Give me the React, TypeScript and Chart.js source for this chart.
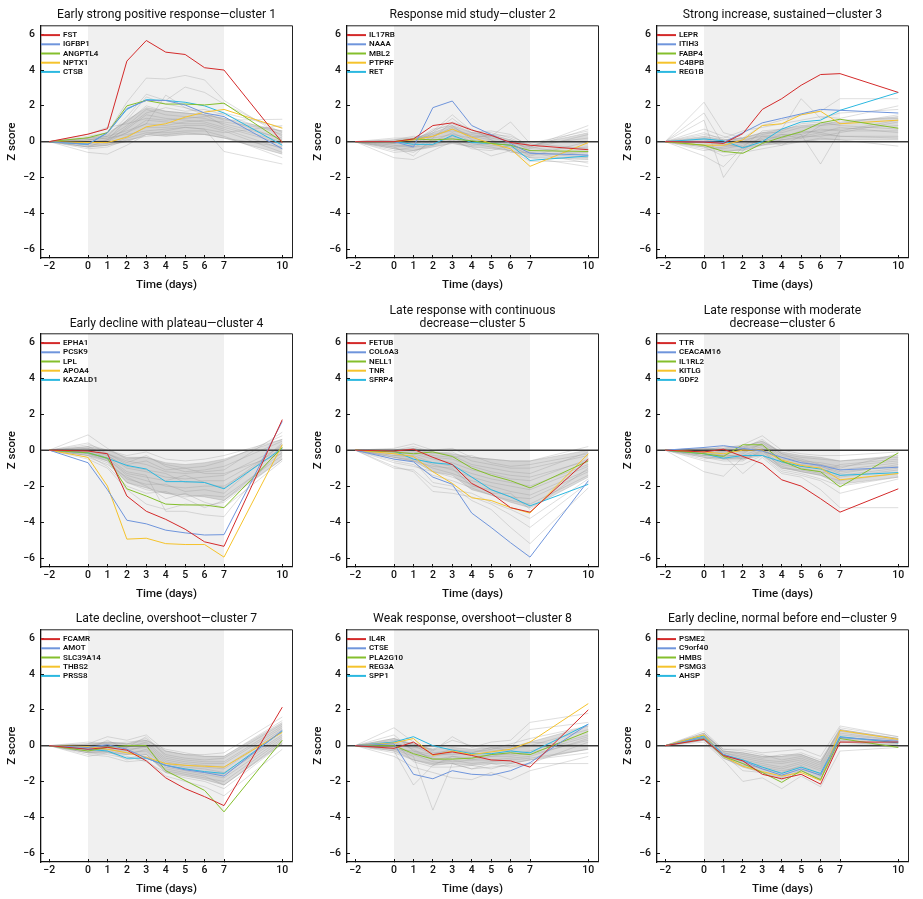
import React, { useEffect, useRef } from 'react';
import { Chart, registerables } from 'chart.js';

Chart.register(...registerables);

// ---------- shared axis data ----------
const DAYS = [-2, 0, 1, 2, 3, 4, 5, 6, 7, 10];
const X_TICKS = [-2, 0, 1, 2, 3, 4, 5, 6, 7, 10];
const Y_TICKS = [-6, -4, -2, 0, 2, 4, 6];
const X_MIN = -2.42;
const X_MAX = 10.5;
const Y_MIN = -6.5;
const Y_MAX = 6.5;
const SHADE_START = 0;
const SHADE_END = 7;
const X_LABEL = 'Time (days)';
const Y_LABEL = 'Z score';
const GENE_COLORS = ['#d42a2a', '#6f95dc', '#84bf2c', '#f5c32c', '#2bb8e0'];

// ---------- cluster 1 ----------
const C1_TITLE = ['Early strong positive response—cluster 1'];
const C1_GENES = ['FST', 'IGFBP1', 'ANGPTL4', 'NPTX1', 'CTSB'];
const C1_LINES = [
  [0, 0.42, 0.72, 4.5, 5.65, 5.0, 4.87, 4.13, 4.0, -0.05],
  [0, -0.15, 0.5, 1.85, 2.3, 2.3, 2.05, 1.6, 1.4, -0.4],
  [0, 0.22, 0.5, 2.0, 2.3, 2.1, 2.1, 2.05, 2.15, 0.0],
  [0, -0.05, -0.05, 0.25, 0.83, 1.0, 1.37, 1.65, 1.8, 0.75],
  [0, -0.15, 0.5, 1.8, 2.35, 2.3, 2.2, 2.0, 1.6, -0.2],
];
const C1_CORE_HI = [0, 0.2, 0.4, 1.2, 1.9, 1.7, 1.6, 1.5, 1.3, 0.6];
const C1_CORE_LO = [0, -0.3, -0.2, 0.0, 0.4, 0.3, 0.4, 0.4, 0.2, -0.7];
const C1_BACKGROUND = [
  [0, 0.2, 0.5, 2.2, 3.55, 3.5, 3.7, 3.45, 2.3, 0.3],
  [0, 0.1, 0.3, 1.4, 2.65, 2.3, 3.05, 2.75, 2.1, 0.5],
  [0, -0.3, 0.1, 1.2, 2.5, 2.1, 1.9, 1.6, 1.2, 1.25],
  [0, -0.6, -0.7, -0.2, 0.4, 0.6, 0.8, 0.7, -0.55, -1.25],
  [0, 0.1, 0.2, 0.9, 1.8, 1.5, 1.4, 1.3, 1.0, 0.2],
  [0, 0.0, 0.1, 0.7, 1.5, 1.3, 1.2, 1.1, 0.8, -0.1],
  [0, -0.1, 0.0, 0.5, 1.2, 1.1, 1.0, 1.0, 0.7, -0.4],
  [0, 0.2, 0.3, 0.6, 1.0, 0.9, 1.1, 1.2, 1.1, 0.6],
  [0, -0.2, -0.1, 0.3, 0.8, 0.8, 0.9, 0.9, 0.6, -0.6],
  [0, 0.1, 0.2, 0.4, 0.6, 0.7, 0.8, 0.7, 0.5, 0.9],
  [0, -0.3, -0.2, 0.2, 0.5, 0.5, 0.6, 0.6, 0.3, -0.9],
  [0, 0.3, 0.5, 1.1, 2.0, 1.7, 1.6, 1.5, 1.3, 0.1],
  [0, 0.0, 0.0, 0.8, 1.6, 1.9, 1.7, 1.8, 1.5, 0.4],
  [0, -0.4, -0.3, 0.1, 0.3, 0.4, 0.5, 0.4, 0.2, -0.3],
  [0, 0.4, 0.8, 1.0, 1.3, 1.2, 1.3, 1.4, 1.6, 0.8],
  [0, -0.1, 0.1, 0.5, 1.0, 2.6, 1.9, 1.5, 0.9, 0.0],
];

// ---------- cluster 2 ----------
const C2_TITLE = ['Response mid study—cluster 2'];
const C2_GENES = ['IL17RB', 'NAAA', 'MBL2', 'PTPRF', 'RET'];
const C2_LINES = [
  [0, 0, 0.15, 0.9, 1.05, 0.65, 0.35, -0.05, -0.2, -0.45],
  [0, 0, -0.3, 1.9, 2.27, 0.9, 0.4, -0.1, -0.65, -0.75],
  [0, 0, 0.15, 0.1, 0.15, 0.05, -0.1, -0.2, -0.5, -0.55],
  [0, 0, 0.1, 0.3, 0.7, 0.25, -0.1, -0.4, -1.38, -0.05],
  [0, 0, -0.15, -0.15, 0.35, -0.05, -0.1, -0.2, -1.05, -0.8],
];
const C2_CORE_HI = [0, 0.1, 0.2, 0.5, 0.9, 0.5, 0.4, 0.1, -0.2, 0.5];
const C2_CORE_LO = [0, -0.4, -0.5, -0.3, -0.1, -0.3, -0.4, -0.5, -0.9, -1.0];
const C2_BACKGROUND = [
  [0, -0.1, 0.1, 0.6, 1.5, 0.6, 0.5, 0.2, -0.3, 0.9],
  [0, -0.2, -0.2, 0.5, 1.3, 0.5, 0.3, 1.1, -0.1, 0.6],
  [0, -0.9, -1.0, -0.5, 0.0, -0.3, -0.8, -0.5, -0.9, -1.4],
  [0, -0.6, -0.5, -0.2, 0.3, -0.1, -0.3, -0.5, -1.1, -1.1],
  [0, -0.3, -0.2, 0.3, 0.8, 0.3, 0.1, -0.2, -0.6, -0.9],
  [0, -0.1, 0.1, 0.4, 0.6, 0.4, 0.2, 0.0, -0.4, 0.4],
  [0, 0.1, 0.3, 0.2, 0.4, 0.2, 0.4, 0.3, -0.2, 0.2],
  [0, -0.4, -0.6, 0.0, 0.5, 0.0, -0.2, -0.3, -0.7, -0.6],
  [0, -0.2, -0.3, 0.1, 0.2, -0.2, -0.1, 0.1, -0.5, -0.3],
  [0, 0.0, -0.1, 0.6, 1.0, 0.5, 0.6, 0.4, -0.3, -0.8],
  [0, -0.5, -0.3, -0.2, 0.1, -0.4, -0.5, -0.2, -0.8, 0.0],
  [0, 0.2, 0.2, 0.3, 0.7, 0.3, 0.3, 0.0, -0.1, -0.4],
  [0, -0.3, -0.8, 0.2, 1.1, 0.7, 0.1, -0.6, -0.6, -1.2],
  [0, -0.1, 0.0, 0.7, 0.9, 0.1, 0.0, -0.1, -0.3, 0.7],
];

// ---------- cluster 3 ----------
const C3_TITLE = ['Strong increase, sustained—cluster 3'];
const C3_GENES = ['LEPR', 'ITIH3', 'FABP4', 'C4BPB', 'REG1B'];
const C3_LINES = [
  [0, -0.02, -0.1, 0.45, 1.8, 2.4, 3.15, 3.75, 3.8, 2.75],
  [0, 0, -0.05, 0.5, 1.05, 1.3, 1.55, 1.8, 1.75, 1.6],
  [0, -0.2, -0.55, -0.65, -0.1, 0.25, 0.55, 1.05, 1.25, 0.75],
  [0, -0.2, -0.2, 0.1, 0.9, 1.0, 1.5, 1.7, 1.0, 1.2],
  [0, 0.15, 0.05, -0.35, 0.0, 0.7, 1.1, 1.2, 1.75, 2.75],
];
const C3_CORE_HI = [0, 0.3, 0.1, 0.2, 0.5, 0.7, 0.9, 1.0, 1.1, 1.4];
const C3_CORE_LO = [0, -0.3, -0.5, -0.5, -0.2, -0.1, 0.0, 0.1, 0.1, 0.1];
const C3_BACKGROUND = [
  [0, 2.2, 0.5, 0.2, 0.9, 1.2, 1.5, 1.7, 2.4, 2.4],
  [0, 1.6, -0.2, -0.3, 0.6, 0.7, 2.4, 1.3, 1.6, 1.8],
  [0, 1.2, -2.0, -0.5, 0.3, 0.2, 0.4, -1.25, 0.6, 1.2],
  [0, -0.8, -1.4, -0.3, -0.2, 0.1, 0.3, 0.5, 0.3, 0.3],
  [0, 0.5, 0.1, 0.2, 0.5, 0.5, 0.8, 0.9, 1.0, 1.5],
  [0, -0.2, -0.4, -0.2, 0.2, 0.3, 0.5, 0.6, 0.7, 0.9],
  [0, 0.2, 0.0, 0.1, 0.3, 0.4, 0.4, 0.7, 0.6, 0.6],
  [0, -0.4, -0.6, -0.4, 0.0, 0.1, 0.2, 0.4, 0.3, 0.2],
  [0, 0.7, 0.3, 0.0, 0.1, -0.2, 0.3, 0.3, 0.5, 1.1],
  [0, 0.0, -0.2, 0.0, 0.4, 0.6, 1.0, 1.1, 0.9, 0.7],
  [0, -0.3, -0.8, -0.6, -0.4, -0.2, 0.0, 0.2, 0.1, -0.25],
  [0, 0.4, 0.2, 0.6, 0.8, 1.0, 1.2, 1.4, 1.3, 2.0],
  [0, 0.1, -0.1, -0.3, 0.1, 0.2, 0.6, 0.5, 0.8, 0.5],
  [0, -0.5, -0.3, -0.1, 0.0, 0.4, 0.2, 0.9, 1.2, 1.3],
];

// ---------- cluster 4 ----------
const C4_TITLE = ['Early decline with plateau—cluster 4'];
const C4_GENES = ['EPHA1', 'PCSK9', 'LPL', 'APOA4', 'KAZALD1'];
const C4_LINES = [
  [0, -0.05, -0.2, -2.55, -3.4, -3.85, -4.4, -5.1, -5.35, 1.7],
  [0, -0.7, -2.2, -3.9, -4.1, -4.45, -4.6, -4.72, -4.7, 1.6],
  [0, -0.15, -0.45, -2.15, -2.55, -3.0, -3.05, -3.05, -3.2, 0.15],
  [0, -0.4, -2.0, -4.95, -4.9, -5.2, -5.25, -5.25, -5.95, 0.3],
  [0, -0.15, -0.45, -0.85, -1.05, -1.75, -1.75, -1.8, -2.15, 0.1],
];
const C4_CORE_HI = [0, 0.2, 0.0, -0.4, -0.4, -0.7, -0.8, -0.7, -0.5, 0.6];
const C4_CORE_LO = [0, -0.3, -0.6, -1.8, -2.1, -2.4, -2.5, -2.6, -2.8, -0.5];
const C4_BACKGROUND = [
  [0, 0.85, 0.1, -0.5, -0.4, -0.8, -1.0, -0.9, -0.6, 0.8],
  [0, 0.4, -0.2, -0.7, -0.3, -0.9, -1.2, -1.1, -0.9, 0.5],
  [0, 0.2, -0.3, -1.0, -1.2, -1.5, -1.6, -1.5, -1.4, 0.2],
  [0, -0.2, -0.5, -1.4, -1.7, -2.0, -2.1, -2.0, -2.0, 0.0],
  [0, -0.3, -0.7, -1.8, -2.2, -2.4, -2.6, -2.5, -2.6, -0.3],
  [0, -0.5, -1.0, -2.2, -3.0, -3.3, -3.0, -3.1, -2.9, -0.5],
  [0, -0.1, -0.4, -1.2, -1.4, -3.4, -3.4, -3.6, -3.7, 0.3],
  [0, 0.1, -0.2, -0.6, -0.8, -1.2, -1.3, -1.2, -1.1, 1.0],
  [0, -0.2, -0.6, -1.6, -1.9, -1.9, -2.3, -2.2, -2.4, 0.4],
  [0, 0.3, 0.0, -0.3, -0.1, -0.5, -0.6, -0.5, -0.3, 0.6],
  [0, -0.4, -0.8, -1.5, -2.0, -2.7, -2.4, -2.9, -3.2, -0.6],
  [0, 0.0, -0.3, -0.9, -1.1, -1.3, -1.8, -1.7, -1.7, 0.1],
  [0, -0.1, -0.2, -0.8, -0.6, -1.1, -1.0, -1.3, -1.3, -0.2],
  [0, 0.1, -0.5, -1.3, -1.5, -1.7, -1.4, -1.8, -2.1, 0.3],
  [0, -0.3, -0.9, -2.0, -2.4, -2.3, -2.7, -3.2, -2.8, -0.1],
];

// ---------- cluster 5 ----------
const C5_TITLE = ['Late response with continuous', 'decrease—cluster 5'];
const C5_GENES = ['FETUB', 'COL6A3', 'NELL1', 'TNR', 'SFRP4'];
const C5_LINES = [
  [0, -0.05, 0.05, -0.4, -0.8, -1.85, -2.4, -3.2, -3.45, -0.5],
  [0, -0.5, -0.65, -1.5, -1.9, -3.5, -4.3, -5.15, -5.95, -1.7],
  [0, -0.1, -0.2, -0.1, -0.35, -1.0, -1.4, -1.7, -2.1, -0.6],
  [0, -0.2, -0.35, -1.2, -1.85, -2.65, -2.8, -3.2, -3.5, -0.2],
  [0, -0.05, -0.5, -0.7, -0.8, -1.5, -2.2, -2.6, -3.1, -1.9],
];
const C5_CORE_HI = [0, 0.0, 0.1, -0.1, -0.2, -0.4, -0.5, -0.6, -0.6, 0.0];
const C5_CORE_LO = [0, -0.4, -0.6, -1.2, -1.4, -2.2, -2.5, -2.9, -3.2, -1.5];
const C5_BACKGROUND = [
  [0, 0.1, 0.35, 0.0, 0.1, -0.4, -0.5, -0.6, -0.6, 0.2],
  [0, -0.1, 0.1, -0.2, -0.1, -0.6, -0.8, -1.0, -1.0, -0.3],
  [0, -0.2, -0.1, -0.4, -0.5, -0.9, -1.2, -1.4, -1.5, -0.6],
  [0, -0.3, -0.3, -0.7, -0.9, -1.3, -1.6, -1.8, -2.0, -0.8],
  [0, -0.4, -0.5, -1.0, -1.3, -1.7, -2.0, -2.3, -2.5, -1.1],
  [0, -0.6, -0.8, -1.4, -1.7, -2.1, -2.5, -2.8, -3.0, -1.4],
  [0, -0.9, -1.2, -2.3, -2.4, -2.6, -3.0, -3.6, -4.3, -1.8],
  [0, -0.5, -0.6, -1.8, -2.0, -2.8, -3.3, -4.3, -5.2, -2.1],
  [0, 0.0, 0.2, -0.1, -0.3, -0.8, -1.0, -1.2, -1.3, -0.1],
  [0, -0.2, -0.2, -0.5, -0.7, -1.1, -1.3, -1.6, -1.7, -0.5],
  [0, -0.3, -0.4, -0.8, -1.1, -1.5, -1.8, -2.0, -2.2, -0.9],
  [0, -1.0, -1.1, -2.0, -2.2, -2.4, -2.9, -3.3, -3.8, -1.6],
  [0, -0.1, 0.0, -0.3, -0.4, -0.3, -0.7, -0.9, -0.8, -0.2],
  [0, -0.4, -0.6, -0.9, -1.0, -2.0, -2.2, -2.6, -2.7, -1.2],
  [0, -0.7, -0.9, -1.2, -1.5, -1.9, -2.4, -2.4, -3.3, -1.0],
];

// ---------- cluster 6 ----------
const C6_TITLE = ['Late response with moderate', 'decrease—cluster 6'];
const C6_GENES = ['TTR', 'CEACAM16', 'IL1RL2', 'KITLG', 'GDF2'];
const C6_LINES = [
  [0, -0.1, 0.05, -0.35, -0.75, -1.65, -2.0, -2.7, -3.45, -2.15],
  [0, 0.15, 0.25, 0.1, -0.05, -0.4, -0.7, -0.85, -1.1, -0.95],
  [0, -0.2, -0.35, 0.3, 0.3, -0.6, -1.05, -1.2, -2.05, -0.15],
  [0, -0.1, -0.2, 0.0, 0.0, -0.55, -0.85, -1.0, -1.65, -1.3],
  [0, -0.2, -0.45, -0.3, -0.3, -0.65, -0.9, -1.05, -1.4, -1.25],
];
const C6_CORE_HI = [0, 0.1, 0.1, 0.2, 0.5, -0.1, -0.3, -0.4, -0.6, -0.3];
const C6_CORE_LO = [0, -0.4, -0.5, -0.5, -0.3, -1.0, -1.2, -1.4, -1.9, -1.5];
const C6_BACKGROUND = [
  [0, -0.1, 0.1, 0.3, 0.8, 0.0, -0.2, -0.3, -0.3, -0.1],
  [0, 0.0, 0.2, 0.2, 0.5, -0.2, -0.4, -0.5, -0.6, -0.4],
  [0, -0.2, -0.1, 0.0, 0.3, -0.4, -0.6, -0.7, -0.9, -0.6],
  [0, -0.3, -0.3, -0.3, 0.1, -0.6, -0.8, -0.9, -1.2, -0.9],
  [0, -0.4, -0.6, -0.6, 0.0, -0.8, -1.0, -1.2, -1.5, -1.1],
  [0, -1.2, -1.45, -0.4, -0.2, -1.1, -1.3, -1.6, -2.0, -1.5],
  [0, -0.5, -0.3, -1.3, -0.4, -1.3, -1.5, -2.2, -3.2, -3.2],
  [0, -0.2, -0.4, -0.2, 0.4, -0.3, -0.5, -0.8, -1.0, -0.2],
  [0, 0.1, 0.0, -0.1, 0.2, -0.5, -0.7, -0.8, -1.1, -0.7],
  [0, -0.3, -0.2, -0.5, -0.1, -0.9, -1.2, -1.4, -1.7, -1.3],
  [0, -0.1, -0.3, 0.1, 0.6, -0.2, -0.6, -0.9, -1.3, -0.8],
  [0, -0.6, -0.8, -0.8, -0.3, -1.2, -1.4, -1.7, -2.4, -1.6],
  [0, 0.0, -0.1, 0.1, 0.3, -0.7, -0.9, -1.0, -1.4, -1.0],
  [0, -0.2, -0.5, -0.4, 0.0, -1.0, -1.1, -1.3, -0.8, -0.5],
];

// ---------- cluster 7 ----------
const C7_TITLE = ['Late decline, overshoot—cluster 7'];
const C7_GENES = ['FCAMR', 'AMOT', 'SLC39A14', 'THBS2', 'PRSS8'];
const C7_LINES = [
  [0, -0.2, -0.1, -0.25, -0.85, -1.8, -2.4, -2.85, -3.35, 2.15],
  [0, -0.1, 0.05, -0.2, -0.7, -1.1, -1.35, -1.5, -1.7, 0.85],
  [0, -0.3, -0.1, 0.0, 0.0, -1.4, -1.95, -2.5, -3.7, 0.3],
  [0, -0.05, -0.2, -0.4, -0.65, -1.0, -1.1, -1.15, -1.2, 0.75],
  [0, -0.2, -0.3, -0.7, -0.7, -1.1, -1.3, -1.45, -1.55, 0.8],
];
const C7_CORE_HI = [0, 0.1, 0.2, 0.1, 0.3, -0.3, -0.5, -0.6, -0.6, 1.3];
const C7_CORE_LO = [0, -0.4, -0.4, -0.5, -0.5, -1.5, -1.7, -1.9, -2.2, 0.1];
const C7_BACKGROUND = [
  [0, 0.1, 0.5, 0.3, 0.6, -0.3, -0.5, -0.5, -0.4, 1.6],
  [0, 0.0, 0.2, 0.1, 0.4, -0.5, -0.7, -0.8, -0.7, 1.2],
  [0, -0.1, 0.0, -0.1, 0.2, -0.7, -0.9, -1.0, -1.0, 1.0],
  [0, -0.2, -0.2, -0.3, 0.0, -0.9, -1.1, -1.2, -1.3, 0.8],
  [0, -0.3, -0.3, -0.5, -0.2, -1.1, -1.3, -1.5, -1.6, 0.5],
  [0, -0.4, -0.5, -0.7, -0.5, -1.4, -1.6, -1.8, -2.0, 0.3],
  [0, -0.5, -0.6, -0.9, -0.8, -1.7, -2.0, -2.3, -2.8, -0.2],
  [0, -0.6, -0.4, -0.6, -0.9, -1.5, -1.8, -2.0, -2.4, 0.1],
  [0, 0.2, 0.1, 0.2, 0.3, -0.2, -0.4, -0.6, -0.6, 1.4],
  [0, -0.1, -0.1, 0.0, 0.1, -0.8, -1.0, -1.1, -1.2, 0.9],
  [0, -0.2, 0.3, -0.2, -0.1, -1.0, -1.2, -1.3, -1.5, 0.6],
  [0, -0.3, -0.2, -0.4, -0.3, -1.2, -1.4, -1.6, -1.8, 0.4],
  [0, 0.0, 0.1, -0.1, 0.5, -0.6, -0.8, -0.9, -0.9, 1.1],
  [0, -0.4, -0.3, -0.8, -0.6, -1.3, -1.5, -1.7, -2.2, 0.2],
];

// ---------- cluster 8 ----------
const C8_TITLE = ['Weak response, overshoot—cluster 8'];
const C8_GENES = ['IL4R', 'CTSE', 'PLA2G10', 'REG3A', 'SPP1'];
const C8_LINES = [
  [0, -0.15, 0.2, -0.5, -0.35, -0.55, -0.8, -0.85, -1.2, 2.0],
  [0, 0.1, -1.6, -1.85, -1.4, -1.6, -1.65, -1.4, -0.95, 1.2],
  [0, 0.0, -0.45, -0.75, -0.75, -0.7, -0.5, -0.4, -0.5, 0.8],
  [0, 0.15, 0.4, -0.55, -0.3, -0.5, -0.35, -0.2, 0.2, 2.35],
  [0, 0.2, 0.5, 0.0, -0.25, -0.45, -0.45, -0.3, -0.4, 1.2],
];
const C8_CORE_HI = [0, 0.4, 0.1, -0.2, -0.1, -0.2, -0.1, -0.1, 0.2, 1.1];
const C8_CORE_LO = [0, -0.3, -0.8, -1.1, -1.0, -1.1, -1.0, -1.0, -0.8, -0.2];
const C8_BACKGROUND = [
  [0, 1.0, 0.2, -0.3, 0.5, -0.1, 0.2, 0.3, 1.3, 1.8],
  [0, 0.6, -0.3, -0.5, -0.2, -0.4, -0.2, -0.1, 0.9, 1.3],
  [0, -0.3, -2.2, -1.1, -0.6, -0.8, -0.6, -0.6, -0.4, 0.5],
  [0, -0.2, -0.6, -3.6, -1.0, -1.3, -1.2, -1.1, -1.0, 0.2],
  [0, 0.2, -0.2, -0.8, -0.6, -0.7, -0.5, -0.5, -0.3, 0.6],
  [0, 0.0, -0.4, -0.6, -0.4, -0.5, -0.6, -0.4, -0.5, 0.3],
  [0, -0.4, -0.8, -1.0, -0.8, -1.0, -0.9, -0.8, -0.7, -0.2],
  [0, 0.3, 0.1, -0.4, -0.3, -0.3, -0.3, -0.2, 0.0, 0.9],
  [0, -0.6, -1.2, -1.5, -1.8, -1.9, -1.5, -1.9, -1.4, -0.6],
  [0, 0.1, -0.1, -0.2, 0.3, 0.0, -0.2, 0.1, 0.4, 1.1],
  [0, -0.1, -0.5, -0.9, -1.0, -1.3, -1.0, -1.2, -1.0, -1.0],
  [0, 0.4, 0.0, -0.5, -0.5, -0.4, -0.1, -0.3, 0.2, 0.0],
  [0, -0.2, -0.3, -0.7, -0.9, -0.8, -0.8, -0.7, -0.6, 0.4],
  [0, 0.2, -0.9, -1.2, -1.2, -1.1, -1.3, -1.0, -0.8, -0.4],
];

// ---------- cluster 9 ----------
const C9_TITLE = ['Early decline, normal before end—cluster 9'];
const C9_GENES = ['PSME2', 'C9orf40', 'HMBS', 'PSMG3', 'AHSP'];
const C9_LINES = [
  [0, 0.35, -0.55, -0.85, -1.6, -1.85, -1.6, -2.15, 0.2, 0.2],
  [0, 0.45, -0.5, -0.85, -1.3, -1.65, -1.3, -1.65, 0.45, 0.25],
  [0, 0.4, -0.6, -1.0, -1.5, -2.05, -1.4, -1.9, 0.4, -0.1],
  [0, 0.6, -0.6, -1.15, -1.45, -1.7, -1.5, -1.95, 0.85, 0.35],
  [0, 0.55, -0.5, -0.8, -1.2, -1.55, -1.2, -1.55, 0.5, 0.15],
];
const C9_CORE_HI = [0, 0.7, -0.3, -0.4, -0.6, -0.6, -0.5, -0.9, 0.9, 0.4];
const C9_CORE_LO = [0, 0.3, -0.7, -1.2, -1.5, -1.8, -1.4, -1.9, 0.2, 0.0];
const C9_BACKGROUND = [
  [0, 0.8, -0.2, -0.2, -0.4, -0.3, -0.2, -0.6, 1.1, 0.5],
  [0, 0.6, -0.3, -0.4, -0.6, -0.6, -0.4, -0.8, 0.9, 0.4],
  [0, 0.5, -0.4, -0.6, -0.8, -0.9, -0.7, -1.1, 0.7, 0.3],
  [0, 0.4, -0.5, -0.8, -1.0, -1.2, -0.9, -1.3, 0.5, 0.2],
  [0, 0.3, -0.6, -1.0, -1.3, -1.5, -1.1, -1.6, 0.3, 0.1],
  [0, 0.2, -0.8, -2.0, -1.8, -2.4, -1.7, -2.3, -0.3, -0.1],
  [0, 0.5, -0.5, -1.4, -1.5, -1.9, -1.4, -1.9, 0.2, 0.0],
  [0, 0.7, -0.3, -0.5, -0.7, -0.5, -0.5, -0.9, 0.8, 0.4],
  [0, 0.4, -0.4, -0.7, -0.9, -1.0, -0.8, -1.2, 0.6, 0.3],
  [0, 0.3, -0.6, -0.9, -1.1, -1.3, -1.0, -1.4, 0.4, 0.2],
  [0, 0.6, -0.2, -0.3, -0.5, -0.8, -0.6, -1.0, 1.0, 0.5],
  [0, 0.5, -0.7, -1.1, -1.2, -1.4, -1.2, -1.7, 0.1, 0.0],
];

const CLUSTERS = [
  { title: C1_TITLE, genes: C1_GENES, lines: C1_LINES, hi: C1_CORE_HI, lo: C1_CORE_LO, background: C1_BACKGROUND },
  { title: C2_TITLE, genes: C2_GENES, lines: C2_LINES, hi: C2_CORE_HI, lo: C2_CORE_LO, background: C2_BACKGROUND },
  { title: C3_TITLE, genes: C3_GENES, lines: C3_LINES, hi: C3_CORE_HI, lo: C3_CORE_LO, background: C3_BACKGROUND },
  { title: C4_TITLE, genes: C4_GENES, lines: C4_LINES, hi: C4_CORE_HI, lo: C4_CORE_LO, background: C4_BACKGROUND },
  { title: C5_TITLE, genes: C5_GENES, lines: C5_LINES, hi: C5_CORE_HI, lo: C5_CORE_LO, background: C5_BACKGROUND },
  { title: C6_TITLE, genes: C6_GENES, lines: C6_LINES, hi: C6_CORE_HI, lo: C6_CORE_LO, background: C6_BACKGROUND },
  { title: C7_TITLE, genes: C7_GENES, lines: C7_LINES, hi: C7_CORE_HI, lo: C7_CORE_LO, background: C7_BACKGROUND },
  { title: C8_TITLE, genes: C8_GENES, lines: C8_LINES, hi: C8_CORE_HI, lo: C8_CORE_LO, background: C8_BACKGROUND },
  { title: C9_TITLE, genes: C9_GENES, lines: C9_LINES, hi: C9_CORE_HI, lo: C9_CORE_LO, background: C9_BACKGROUND },
];

// ---------- layout (page pixels) ----------
const FONT = 'Roboto, "Liberation Sans", Arial, sans-serif';
const CANVAS_W = 305;
const Y_AXIS_W = 41;
const X_AXIS_H = 36;
const COL_LEFT = [0, 306, 616];
const ROW_TOP = [0, 300, 600];
const ROW_CHART_TOP = [25.3, 33.3, 29.3];
const ROW_CHART_BOTTOM = [258.3, 266.7, 261.7];
const ROW_TITLE_LAST_LINE = [15, 24, 19];
const TITLE_LH = 13;
const CHART_RIGHT = 292;

const toPts = (vals: number[]) => vals.map((v, i) => ({ x: DAYS[i], y: v }));
const fmt = (v: number) => (v < 0 ? '\u2212' + Math.abs(v) : String(v));

const decorPlugin = {
  id: 'panelDecor',
  beforeDraw(chart: any) {
    const { ctx, chartArea, scales } = chart;
    const x0 = scales.x.getPixelForValue(SHADE_START);
    const x1 = scales.x.getPixelForValue(SHADE_END);
    ctx.save();
    ctx.fillStyle = '#f0f0f0';
    ctx.fillRect(x0, chartArea.top, x1 - x0, chartArea.bottom - chartArea.top);
    ctx.restore();
  },
  afterDatasetsDraw(chart: any) {
    const { ctx, chartArea } = chart;
    ctx.save();
    ctx.strokeStyle = '#222';
    ctx.lineWidth = 1;
    ctx.beginPath();
    ctx.moveTo(chartArea.left, chartArea.top + 0.5);
    ctx.lineTo(chartArea.right + 0.5, chartArea.top + 0.5);
    ctx.lineTo(chartArea.right + 0.5, chartArea.bottom);
    ctx.stroke();
    // legend
    const items = chart.data.datasets.filter((d: any) => d.label);
    ctx.font = `600 8px ${FONT}`;
    ctx.textBaseline = 'middle';
    ctx.textAlign = 'left';
    items.forEach((d: any, i: number) => {
      const y = chartArea.top + 9.8 + i * 9.2;
      ctx.strokeStyle = d.borderColor;
      ctx.lineWidth = 2;
      ctx.beginPath();
      ctx.moveTo(chartArea.left, y);
      ctx.lineTo(chartArea.left + 19, y);
      ctx.stroke();
      ctx.fillStyle = '#111';
      ctx.fillText(d.label, chartArea.left + 22, y);
    });
    ctx.restore();
  },
};

function Panel({ idx }: { idx: number }) {
  const ref = useRef<HTMLCanvasElement>(null);
  const row = Math.floor(idx / 3);
  const col = idx % 3;
  const cl = CLUSTERS[idx];
  const chartTop = ROW_CHART_TOP[row];
  const chartBottom = ROW_CHART_BOTTOM[row];
  const height = Math.round(chartBottom + X_AXIS_H);

  useEffect(() => {
    if (!ref.current) return;
    const nLines = cl.title.length;
    const lastCenter = ROW_TITLE_LAST_LINE[row];
    const firstCenter = lastCenter - (nLines - 1) * TITLE_LH;
    const titlePadTop = firstCenter - TITLE_LH / 2;
    const titlePadBottom = chartTop - titlePadTop - nLines * TITLE_LH;

    const highlight = cl.lines.map((vals, i) => ({
      label: cl.genes[i],
      data: toPts(vals),
      borderColor: GENE_COLORS[i],
      borderWidth: 1,
      pointRadius: 0,
      tension: 0,
      order: 1,
    }));
    const zeroLine = {
      data: [
        { x: X_MIN, y: 0 },
        { x: X_MAX, y: 0 },
      ],
      borderColor: '#3a3a3a',
      borderWidth: 1.5,
      pointRadius: 0,
      order: 2,
    };
    const greys = cl.background.map((vals) => ({
      data: toPts(vals),
      borderColor: 'rgba(150,150,150,0.4)',
      borderWidth: 0.8,
      pointRadius: 0,
      tension: 0,
      order: 3,
    }));
    const coreHi = {
      data: toPts(cl.hi),
      borderColor: 'rgba(160,160,160,0.45)',
      borderWidth: 0.8,
      backgroundColor: 'rgba(150,150,150,0.33)',
      pointRadius: 0,
      tension: 0,
      fill: '+1',
      order: 4,
    };
    const coreLo = {
      data: toPts(cl.lo),
      borderColor: 'rgba(160,160,160,0.45)',
      borderWidth: 0.8,
      pointRadius: 0,
      tension: 0,
      fill: false,
      order: 4,
    };

    const axisCommon = {
      grid: { drawOnChartArea: false, drawTicks: true, tickLength: -3, color: '#111', lineWidth: 1 },
      border: { display: true, color: '#111', width: 1.3 },
    };

    const chart = new Chart(ref.current, {
      type: 'line',
      data: { datasets: [...highlight, zeroLine, ...greys, coreHi, coreLo] as any },
      options: {
        animation: false,
        responsive: false,
        events: [],
        layout: { padding: { left: 0, right: CANVAS_W - CHART_RIGHT, top: 0, bottom: 0 } },
        plugins: {
          legend: { display: false },
          tooltip: { enabled: false },
          title: {
            display: true,
            fullSize: false,
            text: cl.title,
            color: '#111',
            font: { family: FONT, size: 12.2, weight: 'normal', lineHeight: TITLE_LH + 'px' } as any,
            padding: { top: titlePadTop, bottom: titlePadBottom },
          },
        },
        scales: {
          x: {
            type: 'linear',
            min: X_MIN,
            max: X_MAX,
            ...axisCommon,
            afterBuildTicks: (s: any) => {
              s.ticks = X_TICKS.map((v) => ({ value: v }));
            },
            afterFit: (s: any) => {
              s.height = X_AXIS_H;
            },
            ticks: {
              autoSkip: false,
              maxRotation: 0,
              padding: 5,
              color: '#111',
              font: { family: FONT, size: 10.5, weight: '500' } as any,
              callback: (v: any) => fmt(Number(v)),
            },
            title: {
              display: true,
              text: X_LABEL,
              color: '#111',
              font: { family: FONT, size: 11.5, weight: '500' } as any,
              padding: { top: 0, bottom: 2.1 },
            },
          },
          y: {
            type: 'linear',
            min: Y_MIN,
            max: Y_MAX,
            ...axisCommon,
            afterBuildTicks: (s: any) => {
              s.ticks = Y_TICKS.map((v) => ({ value: v }));
            },
            afterFit: (s: any) => {
              s.width = Y_AXIS_W;
            },
            ticks: {
              autoSkip: false,
              padding: 9,
              color: '#111',
              font: { family: FONT, size: 10.5, weight: '500' } as any,
              callback: (v: any) => fmt(Number(v)),
            },
            title: {
              display: true,
              text: Y_LABEL,
              color: '#111',
              font: { family: FONT, size: 11.5, weight: '500' } as any,
              padding: { top: 5.1, bottom: 0 },
            },
          },
        },
      } as any,
      plugins: [decorPlugin],
    });
    return () => chart.destroy();
  }, [idx]);

  return (
    <canvas
      ref={ref}
      width={CANVAS_W}
      height={height}
      style={{
        position: 'absolute',
        left: COL_LEFT[col],
        top: ROW_TOP[row],
        width: CANVAS_W,
        height: height,
      }}
    />
  );
}

export default function App() {
  return (
    <div
      style={{
        position: 'absolute',
        left: 0,
        top: 0,
        width: 923,
        height: 899,
        background: '#fff',
        overflow: 'hidden',
      }}
    >
      {CLUSTERS.map((_, i) => (
        <Panel key={i} idx={i} />
      ))}
    </div>
  );
}
